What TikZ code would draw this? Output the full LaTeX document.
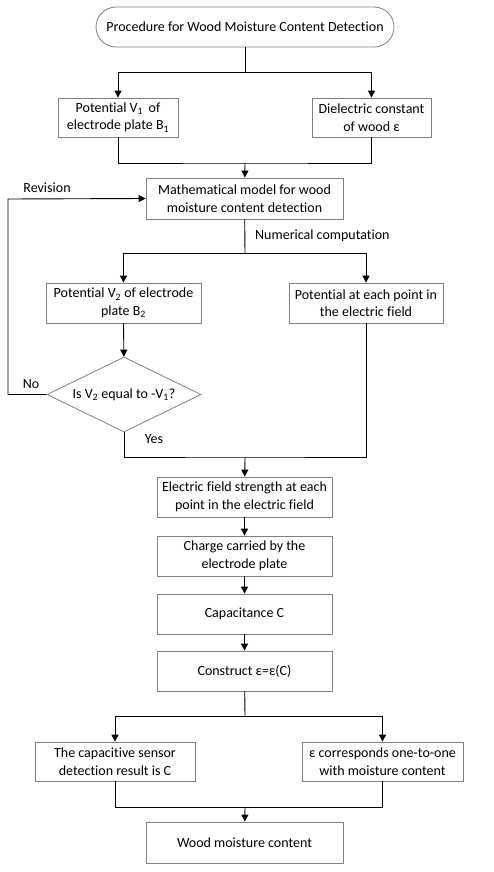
\documentclass[tikz,border=0pt]{standalone}
\usepackage{fontspec}
\setmainfont{Carlito}[Ligatures={NoCommon,NoRare}]
\usepackage{tikz}
\usetikzlibrary{arrows.meta,positioning,shapes.geometric}

\begin{document}
\begin{tikzpicture}[x=1pt, y=-1pt,
  every node/.style={font=\fontsize{14}{17.5}\selectfont},
  box/.style={draw=black!50, line width=0.8pt, align=center, inner sep=1pt},
  term/.style={box, rounded corners=20pt, minimum width=298, minimum height=40},
  dbox/.style={draw=black!50, line width=0.8pt, diamond, aspect=2.05, inner sep=0pt,
               minimum width=154, minimum height=75},
  arr/.style={-{Triangle[width=7pt,length=7pt]}, line width=0.9pt},
  conn/.style={line width=0.9pt},
  lbl/.style={inner sep=1pt},
]
  \useasboundingbox (0,0) rectangle (493,872);
  % main column
  \node[term] (start) at (245,27) {Procedure for Wood Moisture Content Detection};
  \node[box, minimum width=120, minimum height=39] (v1) at (118,117.5) {Potential V\textsubscript{1}\, of\\electrode plate B\textsubscript{1}};
  \node[box, minimum width=119, minimum height=39] (eps) at (371.5,117.5) {Dielectric constant\\of wood ε};
  \node[box, minimum width=197, minimum height=41] (model) at (244.5,198.5) {Mathematical model for wood\\moisture content detection};
  \node[box, minimum width=155, minimum height=40] (v2) at (123.5,303) {Potential V\textsubscript{2} of electrode\\plate B\textsubscript{2}};
  \node[box, minimum width=154, minimum height=40] (pot) at (366,303) {Potential at each point in\\the electric field};
  \node[dbox] (dia) at (124,394.5) {Is V\textsubscript{2} equal to -V\textsubscript{1}?};
  \node[box, minimum width=175, minimum height=40] (efield) at (244.5,497) {Electric field strength at each\\point in the electric field};
  \node[box, minimum width=175, minimum height=40] (charge) at (244.5,556) {Charge carried by the\\electrode plate};
  \node[box, minimum width=175, minimum height=40] (cap) at (244.5,614) {Capacitance C};
  \node[box, minimum width=175, minimum height=40] (cons) at (244.5,671) {Construct ε=ε(C)};
  \node[box, minimum width=160, minimum height=39] (sensor) at (115,761.5) {The capacitive sensor\\detection result is C};
  \node[box, minimum width=161, minimum height=39] (one) at (382.5,761.5) {ε corresponds one-to-one\\with moisture content};
  \node[box, minimum width=197, minimum height=41] (wood) at (244.5,842.5) {Wood moisture content};

  % junction points
  \coordinate (j1) at (245,72);
  \coordinate (m1) at (245,163);
  \coordinate (j2) at (245,253);
  \coordinate (m2) at (245,457);
  \coordinate (j3) at (245,716);
  \coordinate (m3) at (245,807);
  \coordinate (rv) at (8,199);

  % connectors
  \draw[conn] (start) -- (j1);
  \draw[arr] (j1) -| (v1);
  \draw[arr] (j1) -| (eps);
  \draw[conn] (v1) |- (m1) -| (eps);
  \draw[arr] (m1) -- (model);
  \draw[conn] (model) -- (j2);
  \draw[arr] (j2) -| (v2);
  \draw[arr] (j2) -| (pot);
  \draw[arr] (v2) -- (dia);
  \draw[arr] (dia.west) -| (rv) -- (model.west);
  \draw[conn] (dia.south) |- (m2) -| (pot);
  \draw[arr] (m2) -- (efield);
  \draw[arr] (efield) -- (charge);
  \draw[arr] (charge) -- (cap);
  \draw[arr] (cap) -- (cons);
  \draw[conn] (cons) -- (j3);
  \draw[arr] (j3) -| (sensor);
  \draw[arr] (j3) -| (one);
  \draw[conn] (sensor) |- (m3) -| (one);
  \draw[arr] (m3) -- (wood);

  % labels
  \node[lbl] (revlbl) at (47,188) {Revision};
  \node[lbl] (nolbl) at (31,384) {No};
  \node[lbl] (yeslbl) at (154,439) {Yes};
  \node[lbl, anchor=west] (numlbl) at (254,236) {Numerical computation};
\end{tikzpicture}
\end{document}
